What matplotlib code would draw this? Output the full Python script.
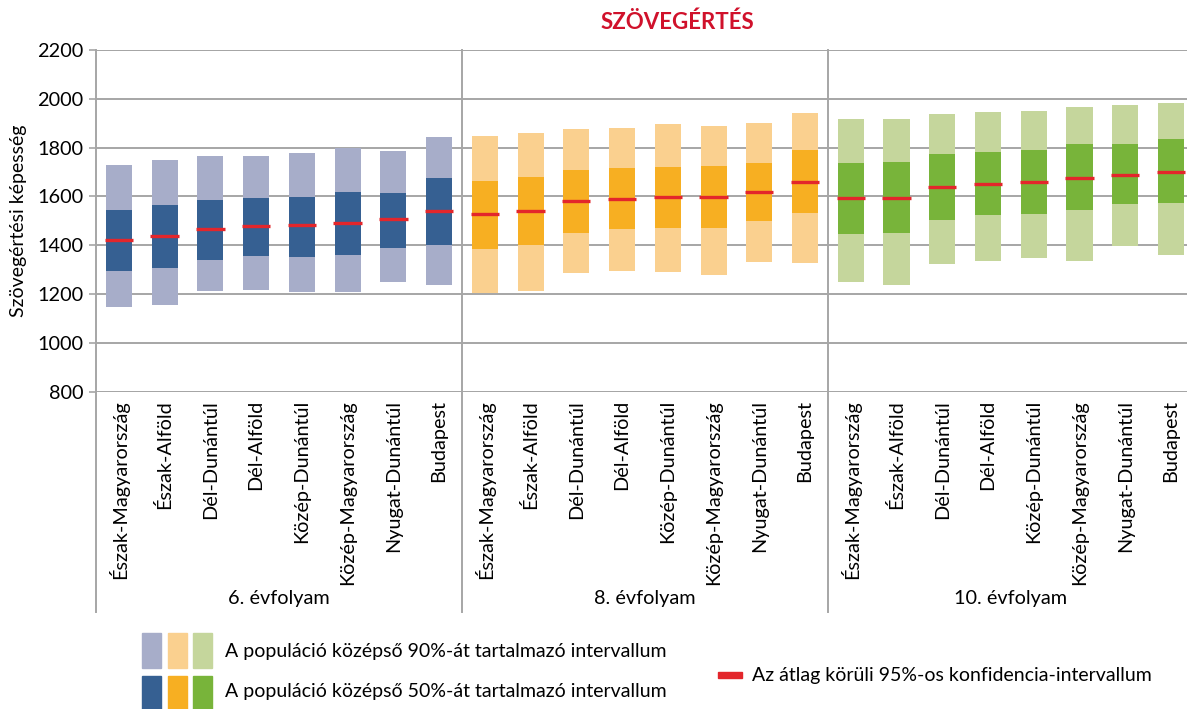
import matplotlib
matplotlib.use('Agg')
import matplotlib.pyplot as plt
import matplotlib.transforms as mtransforms
from matplotlib.patches import Rectangle
from matplotlib.lines import Line2D
import numpy as np

plt.rcParams['font.family'] = ['Lato', 'DejaVu Sans']

#data
regions = ['Észak-Magyarország', 'Észak-Alföld', 'Dél-Dunántúl', 'Dél-Alföld',
           'Közép-Dunántúl', 'Közép-Magyarország', 'Nyugat-Dunántúl', 'Budapest']
grades = ['6. évfolyam', '8. évfolyam', '10. évfolyam']

p95_6 = [1729, 1748, 1767, 1765, 1780, 1797, 1788, 1845]
p75_6 = [1545, 1563, 1586, 1593, 1598, 1619, 1614, 1676]
mean_6 = [1422, 1437, 1468, 1478, 1481, 1490, 1507, 1539]
p25_6 = [1296, 1305, 1341, 1355, 1352, 1359, 1389, 1401]
p5_6 = [1146, 1157, 1212, 1217, 1209, 1209, 1249, 1236]

p95_8 = [1848, 1860, 1876, 1881, 1897, 1889, 1901, 1942]
p75_8 = [1664, 1680, 1709, 1717, 1721, 1725, 1737, 1790]
mean_8 = [1527, 1542, 1580, 1591, 1597, 1598, 1619, 1658]
p25_8 = [1385, 1401, 1451, 1467, 1471, 1471, 1500, 1533]
p5_8 = [1205, 1214, 1288, 1296, 1292, 1280, 1333, 1329]

p95_10 = [1917, 1917, 1938, 1946, 1950, 1967, 1975, 1983]
p75_10 = [1737, 1741, 1774, 1782, 1790, 1815, 1815, 1836]
mean_10 = [1593, 1594, 1640, 1651, 1658, 1676, 1688, 1699]
p25_10 = [1447, 1451, 1504, 1524, 1530, 1545, 1571, 1575]
p5_10 = [1251, 1239, 1325, 1337, 1346, 1337, 1395, 1362]

yticks = [800, 1000, 1200, 1400, 1600, 1800, 2000, 2200]

light = ['#A7ADC9', '#FAD08F', '#C5D69C']
dark = ['#366092', '#F7AF22', '#78B43A']
red = '#E3262B'
grid_c = '#A6A6A6'

W, H = 1187, 709
fig = plt.figure(figsize=(W / 100, H / 100), dpi=100)
ax = fig.add_axes([96 / W, (H - 391.7) / H, 1091 / W, 341.7 / H])

groups = [(p5_6, p25_6, mean_6, p75_6, p95_6),
          (p5_8, p25_8, mean_8, p75_8, p95_8),
          (p5_10, p25_10, mean_10, p75_10, p95_10)]

n = len(regions)
for g, (p5, p25, mu, p75, p95) in enumerate(groups):
    x = np.arange(n) + g * n
    p5, p25, mu, p75, p95 = map(np.array, (p5, p25, mu, p75, p95))
    ax.bar(x, p95 - p5, bottom=p5, width=0.57, color=light[g], zorder=3)
    ax.bar(x, p75 - p25, bottom=p25, width=0.57, color=dark[g], zorder=4)
    ax.hlines(mu, x - 0.31, x + 0.31, color=red, linewidth=2.4, zorder=5)

ax.set_ylim(800, 2200)
ax.set_xlim(-0.5, 23.35)
ax.set_yticks(yticks)
ax.set_yticklabels([str(t) for t in yticks], fontsize=14.3)
ax.tick_params(axis='y', length=5, width=1.2, color=grid_c, pad=4)
ax.set_xticks([])
ax.yaxis.grid(True, color=grid_c, linewidth=1.4, zorder=0)
for s in ['top', 'right', 'bottom', 'left']:
    ax.spines[s].set_visible(False)
ax.axhline(2200, color=grid_c, linewidth=1.4, zorder=1)
ax.axhline(800, color=grid_c, linewidth=1.4, zorder=1)

# multi-level category axis
trans = mtransforms.blended_transform_factory(ax.transData, ax.transAxes)
for xs in [-0.5, 7.5, 15.5]:
    ax.add_line(Line2D([xs, xs], [-0.645, 1.0], transform=trans, color=grid_c,
                       linewidth=1.4, clip_on=False, zorder=2))
for g in range(3):
    for i, r in enumerate(regions):
        ax.text(g * n + i, -0.024, r, transform=trans, rotation=90,
                ha='center', va='top', fontsize=14.3)
    ax.text(g * n + 3.5, -0.604, grades[g], transform=trans,
            ha='center', va='center', fontsize=14.3)

ax.set_ylabel('Szövegértési képesség', fontsize=14)
ax.yaxis.set_label_coords(-0.063, 0.5)

fig.text(677 / W, 1 - 22 / H, 'SZÖVEGÉRTÉS', color='#D0112B', fontsize=16,
         fontweight='bold', ha='center', va='center')

# legend
def px_rect(x0, y0, w, h, c):
    fig.add_artist(Rectangle((x0 / W, 1 - (y0 + h) / H), w / W, h / H,
                             transform=fig.transFigure, color=c))

sq_x = [142, 168, 193]
for k in range(3):
    px_rect(sq_x[k], 633, 19, 35, light[k])
    px_rect(sq_x[k], 676, 19, 33, dark[k])
fig.text(225 / W, 1 - 652 / H, 'A populáció középső 90%-át tartalmazó intervallum',
         fontsize=14, va='center', ha='left')
fig.text(225 / W, 1 - 692 / H, 'A populáció középső 50%-át tartalmazó intervallum',
         fontsize=14, va='center', ha='left')
px_rect(718, 672, 24, 6, red)
fig.text(752 / W, 1 - 675 / H, 'Az átlag körüli 95%-os konfidencia-intervallum',
         fontsize=14, va='center', ha='left')

fig.savefig('out.png', dpi=100)
